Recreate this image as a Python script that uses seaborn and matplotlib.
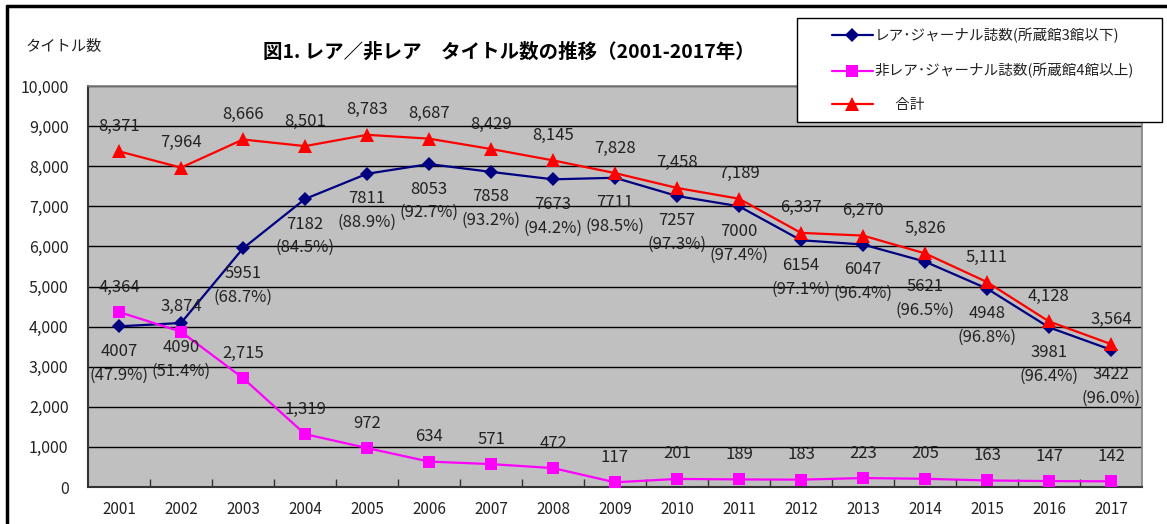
#図1 レア/非レア タイトル数の推移 (2001-2017)

import pandas as pd
import matplotlib.pyplot as plt
import seaborn as sns
from matplotlib.lines import Line2D
from matplotlib.patches import Rectangle

#data
years = list(range(2001, 2018))
rare = [4007, 4090, 5951, 7182, 7811, 8053, 7858, 7673, 7711, 7257, 7000, 6154, 6047, 5621, 4948, 3981, 3422]
rare_pct = [47.9, 51.4, 68.7, 84.5, 88.9, 92.7, 93.2, 94.2, 98.5, 97.3, 97.4, 97.1, 96.4, 96.5, 96.8, 96.4, 96.0]
nonrare = [4364, 3874, 2715, 1319, 972, 634, 571, 472, 117, 201, 189, 183, 223, 205, 163, 147, 142]
total = [8371, 7964, 8666, 8501, 8783, 8687, 8429, 8145, 7828, 7458, 7189, 6337, 6270, 5826, 5111, 4128, 3564]

yticks = list(range(0, 10001, 1000))

label_rare = "レア･ジャーナル誌数(所蔵館3館以下)"
label_non = "非レア･ジャーナル誌数(所蔵館4館以上)"
label_total = "合計"

sns.set_theme(style="white")
plt.rcParams['font.family'] = ['Noto Sans CJK JP', 'DejaVu Sans']
txt = "#222222"

df = pd.DataFrame({"year": years, "rare": rare, "nonrare": nonrare, "total": total})

fig = plt.figure(figsize=(11.67, 5.24), dpi=100)
ax = fig.add_axes([88/1167, 37/524, 1054/1167, 401/524])
ax.set_facecolor("#C0C0C0")

sns.lineplot(data=df, x="year", y="rare", ax=ax, color="#000080", marker="D",
             markersize=7, markeredgewidth=0, linewidth=1.6, zorder=4)
sns.lineplot(data=df, x="year", y="nonrare", ax=ax, color="#FF00FF", marker="s",
             markersize=9, markeredgewidth=0, linewidth=1.6, zorder=4)
sns.lineplot(data=df, x="year", y="total", ax=ax, color="#FF0000", marker="^",
             markersize=10, markeredgewidth=0, linewidth=1.6, zorder=5)

#data labels
fs = 11
lfs = 12
for x, v in zip(years, total):
    ax.annotate(f"{v:,}", (x, v), xytext=(0, 18), textcoords="offset points",
                ha="center", va="center", fontsize=lfs, color=txt, zorder=6)
for x, v in zip(years, nonrare):
    ax.annotate(f"{v:,}", (x, v), xytext=(0, 18), textcoords="offset points",
                ha="center", va="center", fontsize=lfs, color=txt, zorder=6)
for x, v, p in zip(years, rare, rare_pct):
    ax.annotate(f"{v}", (x, v), xytext=(0, -18), textcoords="offset points",
                ha="center", va="center", fontsize=lfs, color=txt, zorder=6)
    ax.annotate(f"({p:.1f}%)", (x, v), xytext=(0, -35), textcoords="offset points",
                ha="center", va="center", fontsize=lfs, color=txt, zorder=6)

#axes
ax.set_xlim(2000.5, 2017.5)
ax.set_ylim(0, 10000)
ax.set_xticks(years)
ax.set_xticklabels([str(y) for y in years])
ax.set_xticks([y + 0.5 for y in years[:-1]], minor=True)
ax.set_yticks(yticks)
ax.set_yticklabels([f"{t:,}" for t in yticks])
ax.yaxis.grid(True, color="black", linewidth=1)
ax.xaxis.grid(False)
ax.tick_params(axis="x", which="major", length=0, pad=10, labelsize=fs, labelcolor=txt)
ax.tick_params(axis="x", which="minor", direction="in", length=6, color="#333333", width=1, bottom=True)
ax.tick_params(axis="y", length=0, pad=14, labelsize=11.5, labelcolor=txt)
ax.set_xlabel("")
ax.set_ylabel("")
for s in ["left", "bottom"]:
    ax.spines[s].set_color("#333333")
    ax.spines[s].set_linewidth(1.5)
for s in ["top", "right"]:
    ax.spines[s].set_color("#808080")
    ax.spines[s].set_linewidth(1.2)

#titles
fig.text(509/1167, 1 - 52/524, "図1. レア／非レア　タイトル数の推移（2001-2017年）",
         ha="center", va="center", fontsize=14, fontweight="bold", color="black")
fig.text(26/1167, 1 - 47/524, "タイトル数", ha="left", va="center", fontsize=fs, color=txt)

#outer frame
fig.add_artist(Line2D([7/1167, 7/1167], [0, 1 - 6/524], color="black", linewidth=2.5))
fig.add_artist(Line2D([7/1167, 1], [1 - 6/524, 1 - 6/524], color="black", linewidth=2.5))

#legend box
fig.add_artist(Rectangle((797/1167, 1 - 122/524), 365/1167, 104/524, transform=fig.transFigure,
                         facecolor="white", edgecolor="black", linewidth=1, zorder=3))
handles = [
    Line2D([], [], color="#000080", marker="D", markersize=7, markeredgewidth=0, linewidth=1.6),
    Line2D([], [], color="#FF00FF", marker="s", markersize=9, markeredgewidth=0, linewidth=1.6),
    Line2D([], [], color="#FF0000", marker="^", markersize=10, markeredgewidth=0, linewidth=1.6),
]
leg = fig.legend(handles, [label_rare, label_non, "　  " + label_total], loc="upper left",
                 bbox_to_anchor=(816/1167, 1 - 12/524), frameon=False, fontsize=10.5,
                 handlelength=2.8, handletextpad=0.1, labelspacing=1.35, borderpad=0.6)
leg.set_zorder(4)
for t in leg.get_texts():
    t.set_color(txt)

plt.savefig("out.png", dpi=100)
